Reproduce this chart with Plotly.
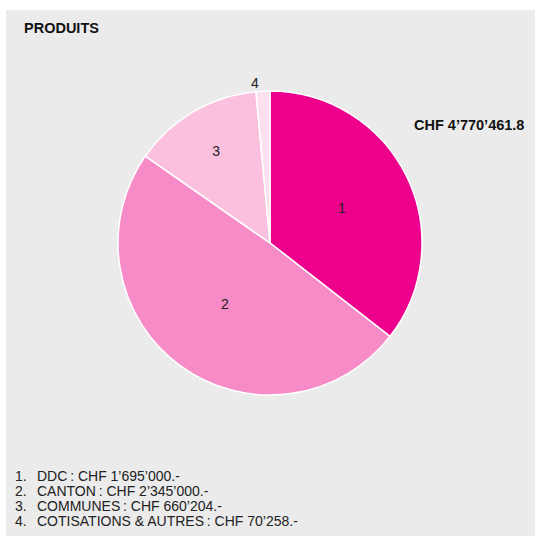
import plotly.graph_objects as go

labels = ["1", "2", "3", "4"]
names = ["DDC", "CANTON", "COMMUNES", "COTISATIONS & AUTRES"]
values = [1695000, 2345000, 660204, 70258]
value_texts = ["CHF 1\u2019695\u2019000.-", "CHF 2\u2019345\u2019000.-", "CHF 660\u2019204.-", "CHF 70\u2019258.-"]
colors = ["#ec008c", "#f78bc7", "#fcc0df", "#fde0ef"]
text_positions = ["inside", "inside", "inside", "outside"]
title_text = "PRODUITS"
total_text = "CHF 4\u2019770\u2019461.8"

W, H = 535, 536
FONT = "Liberation Sans, Arial, Helvetica, sans-serif"

fig = go.Figure()
fig.add_trace(go.Pie(
    labels=labels,
    values=values,
    sort=False,
    direction="clockwise",
    rotation=0,
    textinfo="label",
    textposition=text_positions,
    insidetextorientation="horizontal",
    textfont=dict(family=FONT, size=14, color="#222222"),
    marker=dict(colors=colors, line=dict(color="white", width=1.5)),
    showlegend=False,
    hoverinfo="label+value",
    domain=dict(x=[118 / W, 422 / W], y=[1 - 395 / H, 1 - 91 / H]),
))

annotations = [
    dict(text="<b>" + title_text + "</b>", x=22 / W, y=1 - 28 / H, xref="paper", yref="paper",
         xanchor="left", yanchor="middle", showarrow=False,
         font=dict(family=FONT, size=14.5, color="#111111")),
    dict(text="<b>" + total_text + "</b>", x=412 / W, y=1 - 125 / H, xref="paper", yref="paper",
         xanchor="left", yanchor="middle", showarrow=False,
         font=dict(family=FONT, size=14.5, color="#111111")),
]
for i, (lab, nm, vt) in enumerate(zip(labels, names, value_texts)):
    yy = 1 - (476 + 15 * i) / H
    annotations.append(dict(text=lab + ".", x=13 / W, y=yy, xref="paper", yref="paper",
                            xanchor="left", yanchor="middle", showarrow=False,
                            font=dict(family=FONT, size=14, color="#222222")))
    annotations.append(dict(text=nm + "\u2009: " + vt, x=35 / W, y=yy, xref="paper", yref="paper",
                            xanchor="left", yanchor="middle", showarrow=False,
                            font=dict(family=FONT, size=14, color="#222222")))

fig.update_layout(
    width=W, height=H,
    margin=dict(l=0, r=0, t=0, b=0),
    paper_bgcolor="white",
    plot_bgcolor="white",
    annotations=annotations,
    shapes=[dict(type="rect", xref="paper", yref="paper", x0=6 / W, x1=1, y0=0, y1=1 - 10 / H,
                 fillcolor="#ebebeb", line=dict(width=0), layer="below")],
)

fig.write_html("out.html", config={"displayModeBar": False},
               post_script="document.body.style.margin='0';")
